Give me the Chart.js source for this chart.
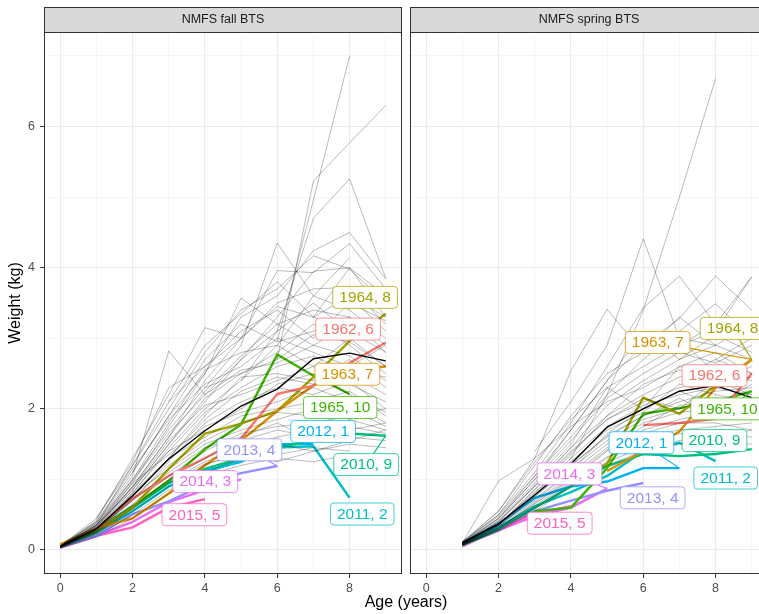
<!DOCTYPE html>
<html><head><meta charset="utf-8">
<script src="https://cdn.jsdelivr.net/npm/chart.js@4/dist/chart.umd.min.js"></script>
<style>
html,body{margin:0;padding:0;background:#fff;width:759px;height:614px;overflow:hidden;position:relative;font-family:"Liberation Sans",Arial,sans-serif;}
.pbox{position:absolute;top:0;height:614px;}
#fallBox{left:0;width:403px;}
#springBox{left:407px;width:361px;}
#xtitle{position:absolute;left:306px;width:200px;top:592px;height:20px;line-height:20px;text-align:center;font-size:16px;color:#000;}
</style>
</head><body>
<div class="pbox" id="fallBox"><canvas id="fall" width="403" height="614"></canvas></div>
<div class="pbox" id="springBox"><canvas id="spring" width="361" height="614"></canvas></div>
<div id="xtitle">Age (years)</div>
<script>
// ---------- DATA ----------
const fallAges = [0,1,2,3,4,5,6,7,8,9];
const springAges = [1,2,3,4,5,6,7,8,9];
const xTickLabels = ['0','2','4','6','8'];
const yTickLabels = ['0','2','4','6'];
const panelTitles = ['NMFS fall BTS','NMFS spring BTS'];

const highlightYears   = [1962,1963,1964,1965,2010,2011,2012,2013,2014,2015];
const highlightNumbers = [6,7,8,10,9,2,1,4,3,5];

// fall highlighted cohorts (weight kg by age 0..9)
const fall1962 = [null,0.30,0.73,1.05,1.30,1.58,2.21,2.33,2.65,2.94];
const fall1963 = [0.08,0.31,0.45,0.80,1.20,1.55,1.97,2.33,2.55,2.60];
const fall1964 = [0.06,0.28,0.60,1.15,1.65,1.79,1.97,2.45,2.96,3.35];
const fall1965 = [0.05,0.28,0.62,0.98,1.43,1.78,2.77,2.47,2.21,null];
const fall2010 = [0.05,0.25,0.60,0.95,1.15,1.30,1.45,1.55,1.65,1.62];
const fall2011 = [0.05,0.25,0.55,0.90,1.10,1.27,1.45,1.47,0.74,null];
const fall2012 = [0.05,0.30,0.62,0.95,1.12,1.25,1.50,1.50,null,null];
const fall2013 = [0.04,0.20,0.51,0.69,0.93,1.09,1.19,null,null,null];
const fall2014 = [0.04,0.20,0.40,0.68,0.85,1.00,null,null,null,null];
const fall2015 = [0.03,0.20,0.32,0.60,0.72,null,null,null,null,null];
const fallMean = [0.05,0.30,0.77,1.29,1.69,2.04,2.28,2.71,2.79,2.68];

// spring highlighted cohorts (weight kg by age 1..9)
const spring1962 = [null,null,null,null,null,1.77,1.80,1.86,2.50];
const spring1963 = [null,null,null,null,1.12,1.40,1.68,2.30,2.70];
const spring1964 = [null,null,null,0.95,1.22,2.16,1.93,2.33,2.70];
const spring1965 = [null,null,0.55,0.60,1.16,1.93,2.01,2.10,2.25];
const spring2010 = [0.07,0.30,0.60,0.90,1.19,1.36,1.33,1.36,1.43];
const spring2011 = [0.08,0.32,0.62,0.82,1.05,1.40,1.52,1.26,null];
const spring2012 = [0.10,0.37,0.74,0.90,0.97,1.16,1.16,null,null];
const spring2013 = [0.10,0.34,0.55,0.70,0.84,0.95,null,null,null];
const spring2014 = [0.07,0.28,0.48,0.60,0.87,null,null,null,null];
const spring2015 = [0.05,0.30,0.52,0.62,null,null,null,null,null];
const springMean = [0.10,0.37,0.78,1.22,1.74,2.00,2.25,2.33,2.16];

// other cohorts (grey), fall, ages 0..9
const fallOtherCohorts = [
 [null,null,null,null,null,null,2.96,4.96,7.00,null],
 [null,null,null,null,null,null,2.70,5.23,5.77,6.30],
 [null,null,null,null,null,2.40,3.10,4.70,5.26,3.85],
 [null,null,null,null,2.30,2.90,4.35,3.60,4.14,null],
 [null,null,null,2.10,2.60,3.00,3.96,3.93,4.34,3.70],
 [null,null,1.10,1.90,2.50,3.30,3.60,4.24,4.50,3.84],
 [null,0.45,1.20,2.00,2.80,3.40,3.70,4.17,3.98,3.50],
 [0.06,0.38,1.05,2.82,2.20,2.70,3.30,3.95,4.00,3.30],
 [0.05,0.42,1.30,2.20,3.15,3.00,3.50,3.70,3.72,3.20],
 [0.04,0.35,0.95,1.75,2.50,3.57,3.20,3.40,3.30,2.90],
 [0.05,0.33,0.90,1.60,2.40,3.00,3.45,3.30,3.60,3.10],
 [0.06,0.40,1.10,1.90,2.70,3.20,2.95,3.10,3.30,2.80],
 [0.05,0.30,0.85,1.50,2.10,2.70,3.10,3.50,3.10,null],
 [0.04,0.36,1.00,1.70,2.30,2.50,2.80,3.20,2.90,2.50],
 [0.05,0.28,0.80,1.45,2.00,2.40,2.90,2.60,3.00,2.60],
 [0.05,0.34,0.98,1.65,2.20,2.55,2.65,2.90,2.75,2.40],
 [0.06,0.40,1.15,1.85,2.35,2.60,3.00,2.80,2.60,2.90],
 [0.04,0.32,0.90,1.40,1.95,2.30,2.60,2.75,2.50,2.20],
 [0.05,0.30,0.75,1.30,1.90,2.45,2.50,2.40,2.70,2.30],
 [0.05,0.36,0.88,1.55,2.05,2.20,2.40,2.60,2.35,2.10],
 [0.04,0.26,0.70,1.25,1.80,2.10,2.30,2.20,2.40,2.00],
 [0.05,0.30,0.82,1.40,1.70,2.00,2.35,2.50,2.20,1.95],
 [0.05,0.32,0.95,1.35,1.75,1.95,2.10,2.30,2.10,1.80],
 [0.04,0.28,0.80,1.30,1.60,1.90,2.00,2.10,2.25,1.90],
 [0.05,0.27,0.72,1.20,1.55,1.80,1.95,1.90,2.00,1.75],
 [0.04,0.30,0.78,1.15,1.50,1.70,1.85,2.00,1.85,1.70],
 [0.05,0.25,0.65,1.05,1.40,1.65,1.75,1.80,1.90,2.00],
 [0.04,0.24,0.60,1.00,1.30,1.55,1.70,1.60,1.75,1.65],
 [0.05,0.26,0.62,0.98,1.25,1.45,1.60,1.70,1.60,1.55],
 [0.04,0.22,0.55,0.90,1.20,1.40,1.50,1.40,1.55,1.70],
 [0.03,0.20,0.50,0.85,1.10,1.30,1.35,1.45,1.40,null],
 [0.04,0.23,0.58,0.95,1.22,1.35,1.25,1.40,1.50,1.45],
 [0.03,0.18,0.45,0.80,1.05,1.20,1.30,1.25,1.35,1.30],
 [0.05,0.35,1.20,2.10,2.90,3.35,3.80,3.30,3.10,2.80],
 [0.06,0.45,1.25,2.30,2.60,3.10,3.40,3.00,3.50,3.25],
 [0.05,0.38,1.00,1.80,2.55,2.80,2.90,3.60,3.40,3.00],
 [0.04,0.30,0.90,1.60,2.25,2.75,3.20,2.90,3.20,null],
 [0.05,0.35,0.85,1.50,2.15,2.50,2.70,3.05,2.95,2.60],
 [null,null,null,null,null,null,null,3.30,4.00,3.60],
 [null,null,null,null,null,null,null,null,3.60,3.30],
 [0.04,0.27,0.75,1.30,1.85,2.25,2.45,2.35,2.55,2.45],
 [0.05,0.30,0.70,1.10,1.45,1.60,1.80,1.55,1.70,1.80]
];

// other cohorts (grey), spring, ages 1..9
const springOtherCohorts = [
 [null,null,null,1.30,2.20,3.40,5.00,6.68,null],
 [null,null,1.40,2.10,2.90,4.41,3.00,2.50,null],
 [0.12,0.55,1.30,2.54,3.41,2.80,3.00,2.90,null],
 [0.12,0.50,1.10,1.80,2.60,3.43,3.88,3.20,3.87],
 [0.10,0.45,1.00,1.70,2.40,2.90,3.28,3.88,3.40],
 [0.11,0.48,1.05,1.60,2.20,2.70,3.10,3.49,3.00],
 [0.10,0.42,0.95,1.50,2.30,2.60,2.90,3.10,3.87],
 [0.09,0.40,0.90,1.45,2.05,2.40,2.70,2.90,2.70],
 [0.10,0.98,1.30,1.75,2.10,2.30,2.60,2.50,2.40],
 [0.08,0.35,0.85,1.35,1.90,2.20,2.45,2.70,2.50],
 [0.10,0.40,0.90,1.40,1.85,2.10,2.30,2.40,2.60],
 [0.09,0.38,0.80,1.30,1.75,2.05,2.20,2.30,2.20],
 [0.10,0.36,0.82,1.25,1.70,1.95,2.35,2.20,2.10],
 [0.08,0.33,0.75,1.20,1.60,1.90,2.10,2.25,2.30],
 [0.09,0.37,0.78,1.15,1.55,1.85,2.00,2.15,2.00],
 [0.08,0.32,0.70,1.10,1.50,1.80,1.95,2.00,1.90],
 [0.07,0.30,0.68,1.05,1.45,1.70,1.85,1.95,1.85],
 [0.08,0.31,0.65,1.00,1.40,1.65,1.80,1.80,1.70],
 [0.07,0.28,0.60,0.95,1.30,1.60,1.70,1.75,1.80],
 [0.07,0.29,0.62,0.98,1.32,1.50,1.65,1.60,1.70],
 [0.06,0.26,0.55,0.90,1.25,1.45,1.55,1.65,1.60],
 [0.07,0.27,0.58,0.92,1.20,1.40,1.50,1.55,1.50],
 [0.10,0.45,1.05,1.70,2.40,3.10,2.70,3.05,2.80],
 [0.11,0.50,1.20,1.90,2.50,2.80,3.30,2.90,3.20],
 [0.10,0.44,1.00,1.55,2.15,2.50,2.80,2.65,2.90],
 [null,null,null,null,null,null,2.90,3.20,null],
 [null,null,null,null,null,null,null,2.70,3.00],
 [0.09,0.40,0.92,1.45,1.90,2.35,2.55,2.35,2.45],
 [0.08,0.36,0.86,1.38,1.85,2.15,2.00,2.40,2.20],
 [0.10,0.55,1.25,1.85,2.30,2.00,2.60,2.80,2.50],
 [0.08,0.34,0.72,1.12,1.65,2.00,2.25,2.05,2.35],
 [0.07,0.30,0.66,1.02,1.42,1.75,2.05,2.10,1.95],
 [0.09,0.35,0.76,1.20,1.62,1.90,2.15,1.90,2.05]
];

const fallHighlight = [fall1962,fall1963,fall1964,fall1965,fall2010,fall2011,fall2012,fall2013,fall2014,fall2015];
const springHighlight = [spring1962,spring1963,spring1964,spring1965,spring2010,spring2011,spring2012,spring2013,spring2014,spring2015];

// ---------- STYLE / LAYOUT ----------
const hueColors = ['#F8766D','#D89000','#A3A500','#39B600','#00BF7D','#00BFC4','#00B0F6','#9590FF','#E76BF3','#FF62BC'];
// label centres in data units (age, kg) – placement only
const fallLabelPlace = [[7.96,3.13],[7.94,2.49],[8.43,3.58],[7.74,2.02],[8.46,1.21],[8.35,0.51],[7.27,1.68],[5.23,1.42],[4.01,0.97],[3.71,0.50]];
const springLabelPlace = [[7.97,2.47],[6.40,2.94],[8.47,3.14],[8.33,2.00],[7.97,1.55],[8.28,1.02],[5.95,1.52],[6.26,0.74],[3.96,1.08],[3.69,0.38]];

Chart.defaults.font.family = "'Liberation Sans', Arial, sans-serif";

function toPoints(ages, vals){
  const out=[]; vals.forEach((v,i)=>{ if(v!==null && v!==undefined) out.push({x:ages[i], y:v}); }); return out;
}
function lastPoint(ages, vals){
  for(let i=vals.length-1;i>=0;i--) if(vals[i]!==null) return [ages[i], vals[i]];
  return null;
}

const decorPlugin = {
  id: 'decor',
  afterDatasetsDraw(chart, args, opts){
    const ctx = chart.ctx, xs = chart.scales.x, ys = chart.scales.y, a = chart.chartArea;
    ctx.save();
    ctx.beginPath(); ctx.rect(a.left, a.top, a.right-a.left, a.bottom-a.top); ctx.clip();
    ctx.font = '15.5px "Liberation Sans", Arial, sans-serif';
    ctx.textAlign = 'center'; ctx.textBaseline = 'middle';
    for(const lb of opts.labels){
      const cx = xs.getPixelForValue(lb.x), cy = ys.getPixelForValue(lb.y);
      const tw = ctx.measureText(lb.text).width;
      const w = tw + 13, h = 22;
      const x0 = cx - w/2, y0 = cy - h/2;
      const px = xs.getPixelForValue(lb.ax), py = ys.getPixelForValue(lb.ay);
      const dx = px - cx, dy = py - cy;
      const t = Math.min(dx===0?1e9:(w/2)/Math.abs(dx), dy===0?1e9:(h/2)/Math.abs(dy));
      const ex = cx + dx*Math.min(t,1), ey = cy + dy*Math.min(t,1);
      if (t < 1 && Math.hypot(px-ex, py-ey) > 10){
        ctx.strokeStyle = lb.color; ctx.lineWidth = 1.1;
        ctx.beginPath(); ctx.moveTo(px,py); ctx.lineTo(ex,ey); ctx.stroke();
      }
      const r = 3.5;
      ctx.beginPath();
      ctx.moveTo(x0+r,y0); ctx.lineTo(x0+w-r,y0); ctx.arcTo(x0+w,y0,x0+w,y0+r,r);
      ctx.lineTo(x0+w,y0+h-r); ctx.arcTo(x0+w,y0+h,x0+w-r,y0+h,r);
      ctx.lineTo(x0+r,y0+h); ctx.arcTo(x0,y0+h,x0,y0+h-r,r);
      ctx.lineTo(x0,y0+r); ctx.arcTo(x0,y0,x0+r,y0,r); ctx.closePath();
      ctx.fillStyle = '#ffffff'; ctx.fill();
      ctx.globalAlpha = 0.75; ctx.strokeStyle = lb.color; ctx.lineWidth = 1; ctx.stroke(); ctx.globalAlpha = 1;
      ctx.fillStyle = lb.color; ctx.fillText(lb.text, cx, cy+0.5);
    }
    ctx.restore();
  },
  afterDraw(chart, args, opts){
    const ctx = chart.ctx, a = chart.chartArea;
    ctx.save();
    ctx.strokeStyle = '#333333'; ctx.lineWidth = 1;
    ctx.strokeRect(Math.round(a.left)+0.5, Math.round(a.top)+0.5, Math.round(a.right-a.left)-1, Math.round(a.bottom-a.top)-1);
    const st = 7, sb = Math.round(a.top);
    ctx.fillStyle = '#D9D9D9';
    ctx.fillRect(Math.round(a.left), st, Math.round(a.right-a.left), sb-st);
    ctx.strokeRect(Math.round(a.left)+0.5, st+0.5, Math.round(a.right-a.left)-1, sb-st);
    ctx.fillStyle = '#1A1A1A';
    ctx.font = '12.5px "Liberation Sans", Arial, sans-serif';
    ctx.textAlign = 'center'; ctx.textBaseline = 'middle';
    ctx.fillText(opts.title, (a.left+a.right)/2, (st+sb)/2+0.5);
    ctx.restore();
  }
};

function buildChart(canvasId, ages, others, mean, highlights, labelPlace, title, showY){
  const datasets = [];
  others.forEach((vals,i)=>datasets.push({
    label:'cohort '+i, data: toPoints(ages, vals), borderColor:'rgba(0,0,0,0.27)', borderWidth:1, pointRadius:0, clip:0
  }));
  datasets.push({label:'mean', data: toPoints(ages, mean), borderColor:'#000000', borderWidth:1.4, pointRadius:0, clip:0});
  const labels = [];
  highlights.forEach((vals,i)=>{
    datasets.push({label: String(highlightYears[i]), data: toPoints(ages, vals), borderColor: hueColors[i], borderWidth:2.4, pointRadius:0, clip:0});
    const lp = lastPoint(ages, vals);
    labels.push({text: highlightYears[i]+', '+highlightNumbers[i], color: hueColors[i],
      x: labelPlace[i][0], y: labelPlace[i][1], ax: lp[0], ay: lp[1]});
  });
  const gridColor = (c)=> (Math.round(c.tick.value) % 2 === 0) ? '#EBEBEB' : '#F3F3F3';
  const gridWidth = (c)=> (Math.round(c.tick.value) % 2 === 0) ? 1.1 : 0.8;
  return new Chart(document.getElementById(canvasId), {
    type:'line',
    data:{datasets},
    options:{
      responsive:false, animation:false, devicePixelRatio:1,
      events:[],
      layout:{padding: showY ? {left:0, right:1, top:32, bottom:0} : {left:3, right:0, top:32, bottom:0}},
      elements:{line:{tension:0, borderJoinStyle:'round', borderCapStyle:'butt'}},
      plugins:{legend:{display:false}, tooltip:{enabled:false},
        decor:{labels, title}},
      scales:{
        x:{type:'linear', min:-0.45, max:9.45,
          afterBuildTicks:(s)=>{ s.ticks = [0,1,2,3,4,5,6,7,8,9].map(v=>({value:v})); },
          afterFit:(s)=>{ s.height = 40; },
          ticks:{autoSkip:false, maxRotation:0, padding:3, color:'#4D4D4D', font:{size:12.5},
            callback:(v)=>{ const k = xTickLabels.indexOf(String(v)); return k>=0 ? xTickLabels[k] : ''; }},
          grid:{color:gridColor, lineWidth:gridWidth, tickLength:4, tickWidth:1,
            tickColor:(c)=> (Math.round(c.tick.value)%2===0) ? '#333333' : 'rgba(0,0,0,0)'},
          border:{display:false}
        },
        y:{type:'linear', min:-0.34, max:7.34,
          afterBuildTicks:(s)=>{ s.ticks = [0,1,2,3,4,5,6,7].map(v=>({value:v})); },
          afterFit:(s)=>{ s.width = showY ? 44 : 0; },
          title:{display:showY, text:'Weight (kg)', color:'#000000', font:{size:16}, padding:{top:6,bottom:0}},
          ticks:{display:showY, autoSkip:false, padding:5, color:'#4D4D4D', font:{size:12.5},
            callback:(v)=>{ const k = yTickLabels.indexOf(String(v)); return k>=0 ? yTickLabels[k] : ''; }},
          grid:{color:gridColor, lineWidth:gridWidth, drawTicks:showY, tickLength: showY?4:0, tickWidth:1,
            tickColor:(c)=> (Math.round(c.tick.value)%2===0) ? '#333333' : 'rgba(0,0,0,0)'},
          border:{display:false}
        }
      }
    },
    plugins:[decorPlugin]
  });
}

buildChart('fall', fallAges, fallOtherCohorts, fallMean, fallHighlight, fallLabelPlace, panelTitles[0], true);
buildChart('spring', springAges, springOtherCohorts, springMean, springHighlight, springLabelPlace, panelTitles[1], false);
</script>
</body></html>
